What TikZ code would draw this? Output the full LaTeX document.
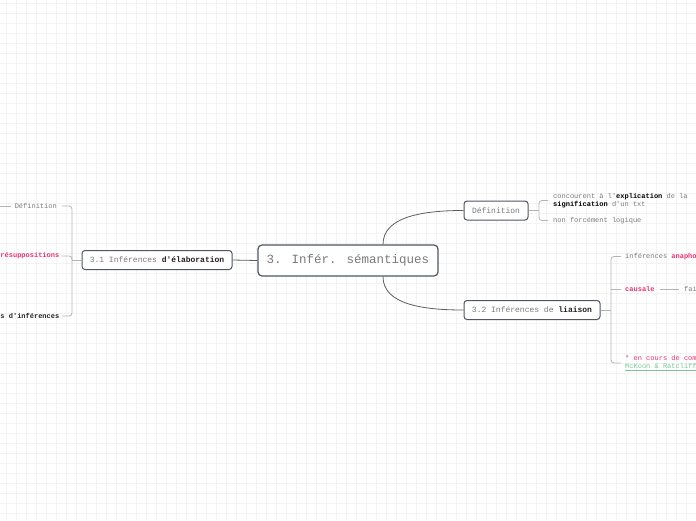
\documentclass[tikz,border=0pt]{standalone}
\usepackage{fontspec}
\setmainfont{Liberation Mono}[Ligatures=TeXOff]
\usepackage{tikz}
\usetikzlibrary{calc,positioning}
\definecolor{myBorder}{HTML}{4F5661}
\definecolor{myGrey}{HTML}{7A7A7A}
\definecolor{myDark}{HTML}{222222}
\definecolor{myPink}{HTML}{E8336E}
\definecolor{myGreen}{HTML}{7CC79A}
\definecolor{myGrid}{HTML}{F3F3F3}
\definecolor{myLine}{HTML}{5E5E5E}
\definecolor{myTick}{HTML}{B4B4B4}
\tikzset{
myTopic/.style={
	draw=myBorder,line width=1.2pt,rounded corners=4pt,fill=white,
	minimum width=180pt,minimum height=31pt,inner sep=0pt,
	font=\fontsize{12.5}{14}\selectfont, text=myGrey
}
, mySub/.style={
	draw=myBorder,line width=1pt,rounded corners=3pt,fill=white,
	minimum height=19pt,inner sep=0pt,
	font=\fontsize{8}{9}\selectfont, text=myGrey
}
, myLeaf/.style={
	inner sep=0pt, align=left,
	font=\fontsize{7}{8}\selectfont, text=myGrey
}
% links
, myLink/.style={draw=myLine,line width=0.8pt}
, myBracket/.style={draw=myTick,line width=0.8pt,rounded corners=3pt}
}

\begin{document}
\begin{tikzpicture}[x=1pt,y=-1pt]
	\useasboundingbox (0,0) rectangle (696,520);
	% grid
	\foreach \gx in {6,16,...,696} \draw[myGrid,line width=0.6pt] (\gx,0) -- (\gx,520);
	\foreach \gy in {3,13,...,520} \draw[myGrid,line width=0.6pt] (0,\gy) -- (696,\gy);

	% nodes
	\node[myTopic] (Main) at (348,260.5) {3. Infér. sémantiques};
	\node[mySub,minimum width=150pt] (Elab) at (157,260) {3.1 Inférences \textbf{\color{myDark}d'élaboration}};
	\node[mySub,minimum width=64pt] (Def) at (496,210.5) {Définition};
	\node[mySub,minimum width=136pt] (Liaison) at (532,310) {3.2 Inférences de \textbf{\color{myDark}liaison}};

	% leaves
	\node[myLeaf,anchor=east] (ElabA) at (57,206) {Définition};
	\node[myLeaf,anchor=west,text=myPink] (ElabB) at (0.3,256) {\textbf{résuppositions}};
	\node[myLeaf,anchor=west,text=myDark] (ElabC) at (0.3,316) {\textbf{s d'inférences}};
	\node[myLeaf,anchor=west] (DefA) at (553,200.5) {concourent à l'\textbf{\color{black}explication} de la\\\textbf{\color{black}signification} d'un txt};
	\node[myLeaf,anchor=west] (DefB) at (553,220.5) {non forcément logique};
	\node[myLeaf,anchor=west] (LiaA) at (625,256.5) {inférences \textbf{\color{myPink}anapho}};
	\node[myLeaf,anchor=west,text=myPink] (LiaB) at (625,289) {\textbf{causale}};
	\node[myLeaf,anchor=west] (Fai) at (684,289) {fai};
	\node[myLeaf,anchor=west] (LiaC) at (625,363) {{\color{myPink}* en cours de com}\\{\color{myGreen}\underline{McKoon \& Ratcliff}}};

	% spines
	\coordinate (ElabSpine) at (72,260);
	\coordinate (DefSpine) at (539,210.5);
	\coordinate (LiaSpine) at (611,310);
	\coordinate (ElabAnext) at (0,206);

	% links
	\draw[myLink] (Main.west) -- (Elab.east);
	\draw[myLink] ($(Main.north)+(35,0)$) .. controls +(0,-28) and +(-40,0) .. (Def.west);
	\draw[myLink] ($(Main.south)+(35,0)$) .. controls +(0,28) and +(-40,0) .. (Liaison.west);

	% brackets
	\draw[myBracket] (Elab.west) -- (ElabSpine);
	\draw[myBracket] ([xshift=5pt]ElabA.east) -| (ElabSpine) |- ([xshift=2pt]ElabC.east);
	\draw[myBracket] ([xshift=2pt]ElabB.east) -| (ElabSpine);
	\draw[myBracket,shorten <=4pt] (ElabA.west) -- (ElabAnext);

	\draw[myBracket] (Def.east) -- (DefSpine);
	\draw[myBracket] ([xshift=-5pt]DefA.west) -| (DefSpine) |- ([xshift=-5pt]DefB.west);

	\draw[myBracket] (Liaison.east) -- (LiaSpine);
	\draw[myBracket] ([xshift=-4pt]LiaA.west) -| (LiaSpine) |- ([xshift=-4pt]LiaC.west);
	\draw[myBracket] ([xshift=-4pt]LiaB.west) -- ++(-10,0);
	\draw[myBracket,shorten <=5pt,shorten >=5pt] (LiaB) -- (Fai);
\end{tikzpicture}
\end{document}
